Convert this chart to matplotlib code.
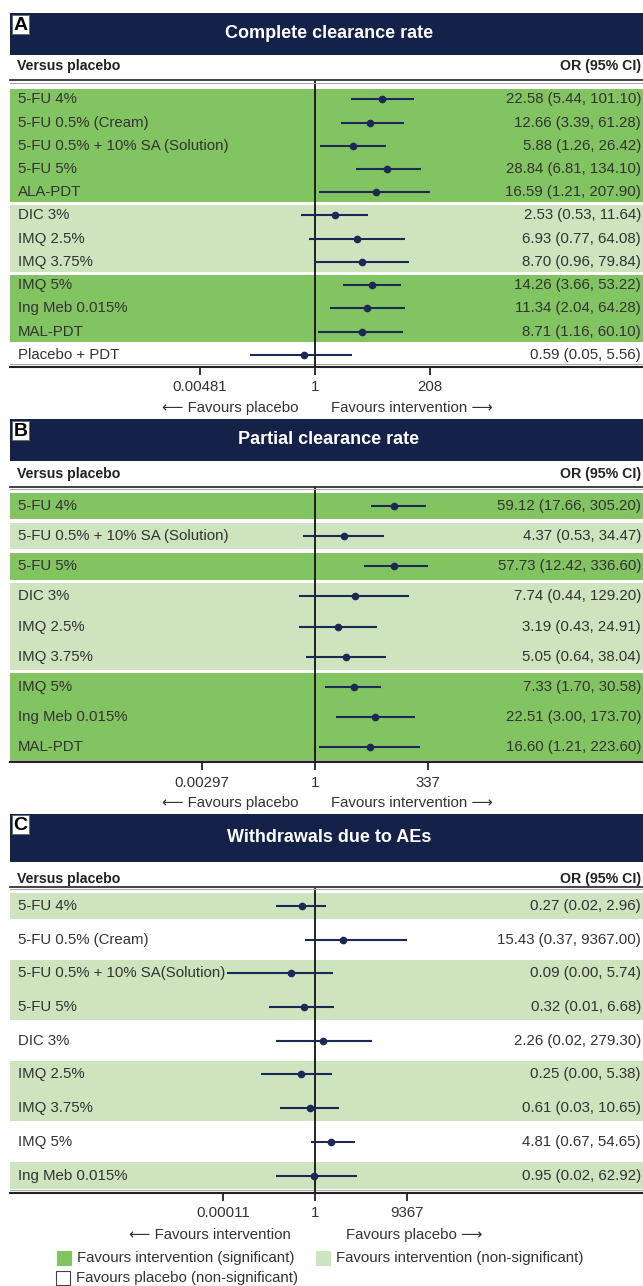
import numpy as np
import matplotlib
matplotlib.use('Agg')
import matplotlib.pyplot as plt
from matplotlib.patches import Rectangle
from matplotlib.lines import Line2D
from matplotlib.transforms import blended_transform_factory

plt.rcParams['font.family'] = ['Liberation Sans', 'DejaVu Sans']

# ---- data ----
a_labels = ['5-FU 4%', '5-FU 0.5% (Cream)', '5-FU 0.5% + 10% SA (Solution)', '5-FU 5%', 'ALA-PDT',
            'DIC 3%', 'IMQ 2.5%', 'IMQ 3.75%', 'IMQ 5%', 'Ing Meb 0.015%', 'MAL-PDT', 'Placebo + PDT']
a_or = [22.58, 12.66, 5.88, 28.84, 16.59, 2.53, 6.93, 8.70, 14.26, 11.34, 8.71, 0.59]
a_lo = [5.44, 3.39, 1.26, 6.81, 1.21, 0.53, 0.77, 0.96, 3.66, 2.04, 1.16, 0.05]
a_hi = [101.10, 61.28, 26.42, 134.10, 207.90, 11.64, 64.08, 79.84, 53.22, 64.28, 60.10, 5.56]
a_shade = ['sig'] * 5 + ['ns'] * 3 + ['sig'] * 3 + ['none']
a_ticks = ['0.00481', '1', '208']

b_labels = ['5-FU 4%', '5-FU 0.5% + 10% SA (Solution)', '5-FU 5%', 'DIC 3%', 'IMQ 2.5%',
            'IMQ 3.75%', 'IMQ 5%', 'Ing Meb 0.015%', 'MAL-PDT']
b_or = [59.12, 4.37, 57.73, 7.74, 3.19, 5.05, 7.33, 22.51, 16.60]
b_lo = [17.66, 0.53, 12.42, 0.44, 0.43, 0.64, 1.70, 3.00, 1.21]
b_hi = [305.20, 34.47, 336.60, 129.20, 24.91, 38.04, 30.58, 173.70, 223.60]
b_shade = ['sig', 'ns', 'sig', 'ns', 'ns', 'ns', 'sig', 'sig', 'sig']
b_ticks = ['0.00297', '1', '337']

c_labels = ['5-FU 4%', '5-FU 0.5% (Cream)', '5-FU 0.5% + 10% SA(Solution)', '5-FU 5%', 'DIC 3%',
            'IMQ 2.5%', 'IMQ 3.75%', 'IMQ 5%', 'Ing Meb 0.015%']
c_or = [0.27, 15.43, 0.09, 0.32, 2.26, 0.25, 0.61, 4.81, 0.95]
c_lo = [0.02, 0.37, 0.00016, 0.01, 0.02, 0.0045, 0.03, 0.67, 0.02]  # 0.00 rows
c_hi = [2.96, 9367.00, 5.74, 6.68, 279.30, 5.38, 10.65, 54.65, 62.92]
c_shade = ['ns', 'none', 'ns', 'ns', 'none', 'ns', 'ns', 'none', 'ns']
c_ticks = ['0.00011', '1', '9367']

# ---- style ----
NAVY = '#14224a'
DARK = '#83c462'
LIGHT = '#cde4bf'
MARK = '#1b2a55'
TXT = '#333333'
shade_col = {'sig': DARK, 'ns': LIGHT, 'none': 'white'}
FS = 10.8

W, H = 643, 1286
fig = plt.figure(figsize=(W / 100, H / 100), dpi=100)


def fx(x):
    return x / W


def fy(y):
    return 1 - y / H


def header(letter, title, top, bottom, box_top):
    fig.add_artist(Rectangle((fx(10), fy(bottom)), fx(633), (bottom - top) / H,
                             transform=fig.transFigure, color=NAVY, lw=0))
    fig.add_artist(Rectangle((fx(12), fy(box_top + 19)), fx(17), 19 / H,
                             transform=fig.transFigure, facecolor='white',
                             edgecolor='#666666', lw=0.6))
    fig.text(fx(20.5), fy(box_top + 10), letter, fontsize=14, fontweight='bold',
             color='black', ha='center', va='center')
    fig.text(fx(329), fy((top + bottom) / 2), title, fontsize=13, fontweight='bold',
             color='white', ha='center', va='center')


def column_heads(y, line_y):
    fig.text(fx(17), fy(y), 'Versus placebo', fontsize=10.2, fontweight='bold',
             color='#222222', ha='left', va='center')
    fig.text(fx(641), fy(y), 'OR (95% CI)', fontsize=10.2, fontweight='bold',
             color='#222222', ha='right', va='center')
    fig.add_artist(Line2D([fx(10), 1], [fy(line_y), fy(line_y)], color='#333333', lw=1.3))
    fig.add_artist(Line2D([fx(10), 1], [fy(line_y + 2.2), fy(line_y + 2.2)], color='#aaaaaa', lw=0.8))


def forest(labels, ors, los, his, shades, ticks, top, bottom, tick_off, band_h, vext,
           fav_y, fav_left, fav_right, left_end, right_start):
    n = len(labels)
    row_px = (bottom - top) / n
    ax = fig.add_axes([fx(10), fy(bottom), fx(633), (bottom - top) / H])
    ax.set_xscale('log')
    tmax = float(ticks[2])
    ppd = tick_off / np.log10(tmax)
    ax.set_xlim(10 ** (-305 / ppd), 10 ** (328 / ppd))
    ax.set_ylim(n - 0.5, -0.5)

    # background bands, consecutive rows of same shade merged
    i = 0
    while i < n:
        j = i
        while j + 1 < n and shades[j + 1] == shades[i]:
            j += 1
        if shades[i] != 'none':
            ax.axhspan(i - band_h, j + band_h, color=shade_col[shades[i]], lw=0, zorder=0)
        i = j + 1

    rows = np.arange(n)
    ax.plot([1, 1], [n - 0.5, -0.5 - vext], color='#111111', lw=1.3, clip_on=False, zorder=2)
    ax.hlines(rows, los, his, color=MARK, lw=1.5, zorder=3)
    ax.plot(ors, rows, 'o', color=MARK, ms=4.5, zorder=4)

    tr = blended_transform_factory(ax.transAxes, ax.transData)
    for k in range(n):
        ax.text(8 / 633, k, labels[k], transform=tr, fontsize=FS, color=TXT,
                ha='left', va='center')
        txt = '%.2f (%.2f, %.2f)' % (ors[k], los[k], his[k])
        ax.text(631 / 633, k, txt, transform=tr, fontsize=FS, color=TXT,
                ha='right', va='center')

    ax.axhline(n - 0.5 - 2.2 / row_px, color='#aaaaaa', lw=0.8, zorder=1)
    for s in ['top', 'left', 'right']:
        ax.spines[s].set_visible(False)
    ax.spines['bottom'].set_color('#222222')
    ax.spines['bottom'].set_linewidth(1.5)
    ax.set_yticks([])
    ax.set_xticks([1 / tmax, 1, tmax])
    ax.set_xticklabels(ticks)
    ax.xaxis.set_minor_locator(matplotlib.ticker.NullLocator())
    ax.tick_params(axis='x', direction='out', length=6, width=1.3, color='#222222',
                   labelsize=FS, labelcolor=TXT, pad=4)

    fig.text(fx(left_end), fy(fav_y), '\u27f5 ' + fav_left, fontsize=FS, color=TXT,
             ha='right', va='center')
    fig.text(fx(right_start), fy(fav_y), fav_right + ' \u27f6', fontsize=FS, color=TXT,
             ha='left', va='center')
    return ax


# Panel A
header('A', 'Complete clearance rate', 13, 55, 15)
column_heads(66, 80.3)
forest(a_labels, a_or, a_lo, a_hi, a_shade, a_ticks, 87.7, 366.5, 115, 0.44, 0.28,
       408, 'Favours placebo', 'Favours intervention', 298, 331)

# Panel B
header('B', 'Partial clearance rate', 419, 461, 421)
column_heads(474, 486.7)
forest(b_labels, b_or, b_lo, b_hi, b_shade, b_ticks, 491, 762, 113, 0.44, 0.12,
       803, 'Favours placebo', 'Favours intervention', 299, 331)

# Panel C
header('C', 'Withdrawals due to AEs', 814, 862, 815)
column_heads(879, 886.5)
forest(c_labels, c_or, c_lo, c_hi, c_shade, c_ticks, 889, 1192.5, 92, 0.39, 0.0,
       1235, 'Favours intervention', 'Favours placebo', 291, 346)

# legend
leg = [(57, 1258, DARK, DARK, 'Favours intervention (significant)'),
       (316, 1258, LIGHT, LIGHT, 'Favours intervention (non-significant)'),
       (56, 1278, 'white', '#444444', 'Favours placebo (non-significant)')]
for x0, yc, fc, ec, lab in leg:
    fig.add_artist(Rectangle((fx(x0), fy(yc + 7)), fx(14), 14 / H, transform=fig.transFigure,
                             facecolor=fc, edgecolor=ec, lw=0.8))
    fig.text(fx(x0 + 20), fy(yc), lab, fontsize=FS, color=TXT, ha='left', va='center')

fig.savefig('out.png', dpi=100)
